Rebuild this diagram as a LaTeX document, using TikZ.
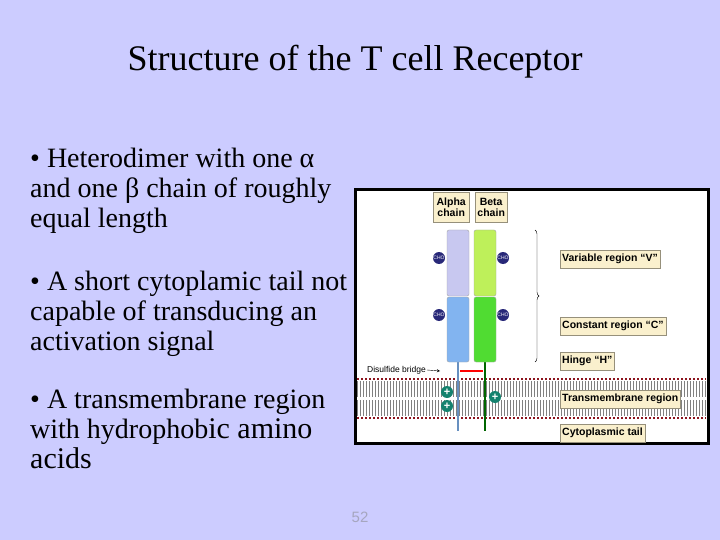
\documentclass[tikz,border=0pt]{standalone}
\usepackage{fontspec}
\setmainfont{Liberation Serif}
\newfontfamily\lab{Liberation Sans}
\usetikzlibrary{decorations.pathreplacing}
\definecolor{bg}{RGB}{204,204,255}
\definecolor{tag}{RGB}{250,240,205}
\definecolor{av}{RGB}{200,200,240}
\definecolor{ac}{RGB}{130,180,240}
\definecolor{bv}{RGB}{190,240,90}
\definecolor{bc}{RGB}{80,220,50}
\definecolor{cho}{RGB}{40,40,120}
\definecolor{plus}{RGB}{20,130,110}
\definecolor{memb}{RGB}{140,20,30}
\tikzset{
 tagbox/.style={draw=tag!60!black,fill=tag,font=\lab\bfseries\fontsize{10.5}{11}\selectfont,inner sep=2pt,anchor=west,minimum height=18pt},
 chain/.style={rounded corners=2pt,draw=gray!70},
 chod/.style={circle,fill=cho,text=white,font=\lab\fontsize{5}{5}\selectfont,inner sep=0pt,minimum size=12pt},
 pl/.style={circle,fill=plus,text=white,font=\lab\bfseries\fontsize{11}{11}\selectfont,inner sep=0pt,minimum size=12pt},
 bul/.style={anchor=north west,align=left,font=\fontsize{28}{30}\selectfont,inner sep=0pt}
}
\begin{document}
\begin{tikzpicture}[x=1pt,y=-1pt]
\fill[bg] (0,0) rectangle (720,540);
\node[font=\fontsize{36}{40}\selectfont] (title) at (355,62) {Structure of the T cell Receptor};
\node[bul] (b1) at (30,148) {• Heterodimer with one α\\and one β chain of roughly\\equal length};
\node[bul] (b2) at (30,271) {• A short cytoplamic tail not\\capable of transducing an\\activation signal};
\node[bul] (b3) at (30,389) {• A transmembrane region\\with hydrophob{\fontsize{30}{33}\selectfont ic amino}\\{\fontsize{30}{33}\selectfont acids}};
\node[font=\lab\fontsize{15}{16}\selectfont,text=gray!50!bg] (pg) at (360,517) {52};
% figure
\draw[line width=3pt,fill=white] (355,190) rectangle (708,443);
% membrane
\foreach \x in {357,360,...,706}{
 \draw[gray,line width=0.6pt] (\x,381) -- (\x,397);
 \draw[gray,line width=0.6pt] (\x,400) -- (\x,416);}
\draw[memb,line width=2pt,dotted] (357,379) -- (706,379);
\draw[memb,line width=2pt,dotted] (357,418) -- (706,418);
% tags
\node[tagbox,minimum width=36pt,minimum height=30pt,align=center,anchor=north west,inner sep=1pt] (ta) at (433,192) {Alpha\\chain};
\node[tagbox,minimum width=32pt,minimum height=30pt,align=center,anchor=north west,inner sep=1pt] (tb) at (475,192) {Beta\\chain};
% chains
\draw[ac!80!black,line width=2.5pt] (458,362) -- (458,431);
\draw[green!40!black,line width=2.5pt] (485,362) -- (485,431);
\draw[chain,fill=av] (447,230) rectangle (469,296);
\draw[chain,fill=ac] (447,297) rectangle (469,362);
\draw[chain,fill=bv] (474,230) rectangle (496,296);
\draw[chain,fill=bc] (474,297) rectangle (496,362);
\node[chod] (c1) at (439,258) {CHO};
\node[chod] (c2) at (439,315) {CHO};
\node[chod] (c3) at (503,258) {CHO};
\node[chod] (c4) at (503,315) {CHO};
\draw[red,line width=1.2pt] (460,371) -- (483,371);
\node[font=\lab\fontsize{8.5}{9}\selectfont,anchor=east,inner sep=1pt] (ds) at (427,370) {Disulfide bridge};
\coordinate (dsa) at (440,371);
\draw[-stealth] (ds.east) -- (dsa);
\node[pl] (p1) at (447,392) {+};
\node[pl] (p2) at (447,406) {+};
\node[pl] (p3) at (495,397) {+};
\draw[decorate,decoration={brace,amplitude=4pt}] (535,230) -- (535,362);
% labels
\node[tagbox] (lv) at (560,259) {Variable region “V”};
\node[tagbox] (lc) at (560,326) {Constant region “C”};
\node[tagbox] (lh) at (560,361) {Hinge “H”};
\node[tagbox] (lt) at (560,399) {Transmembrane region};
\node[tagbox] (ly) at (560,433) {Cytoplasmic tail};
\end{tikzpicture}
\end{document}
